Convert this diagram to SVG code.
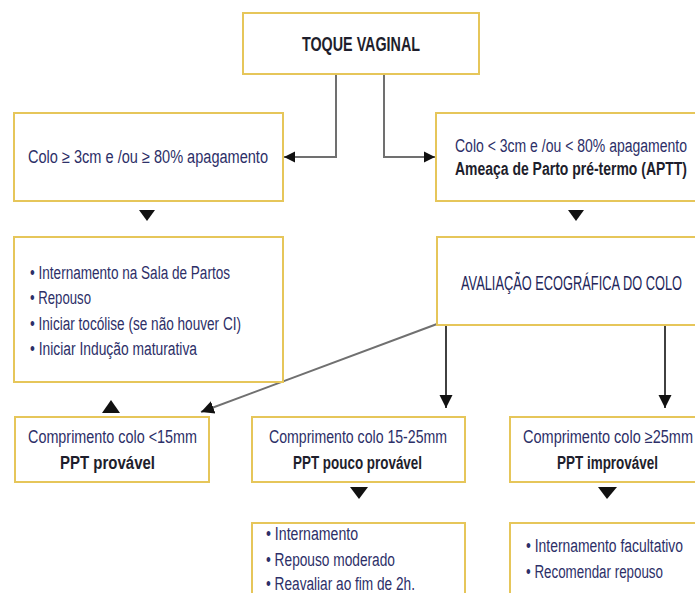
<svg xmlns="http://www.w3.org/2000/svg" width="695" height="593" viewBox="0 0 695 593">
<style>
.box{fill:#fff;stroke:#e6c65a;stroke-width:2}
.t{font-family:"Liberation Sans",Arial,sans-serif;font-size:18px;fill:#2d2f68}
.b{font-family:"Liberation Sans",Arial,sans-serif;font-size:18px;font-weight:bold;fill:#1e1e2c}
.gl{fill:none;stroke:#707070;stroke-width:2}
.bl{fill:none;stroke:#111;stroke-width:1.6}
.tri{fill:#111}
</style>
<defs>
<marker id="arrA" viewBox="0 0 10 10" refX="10" refY="5" markerWidth="11" markerHeight="14" markerUnits="userSpaceOnUse" orient="auto"><path d="M0,0 L10,5 L0,10 z" fill="#111"/></marker>
<marker id="arrB" viewBox="0 0 10 10" refX="10" refY="5" markerWidth="13" markerHeight="18" markerUnits="userSpaceOnUse" orient="auto"><path d="M0,0 L10,5 L0,10 z" fill="#111"/></marker>
</defs>
<rect width="695" height="593" fill="#fff"/>

<g id="connectors">
<path class="gl" d="M336,74 V157 H284" marker-end="url(#arrA)"/>
<path class="gl" d="M384,74 V157 H435" marker-end="url(#arrA)"/>
<path class="gl" d="M437,324 L201,412" marker-end="url(#arrB)"/>
<path class="bl" d="M446,326 V408" marker-end="url(#arrB)"/>
<path class="bl" d="M665,326 V408" marker-end="url(#arrB)"/>
<polygon class="tri" points="139,210 155,210 147,221"/>
<polygon class="tri" points="568,210 584,210 576,221"/>
<polygon class="tri" points="102,413 120,413 111,400"/>
<polygon class="tri" points="350,487 368,487 359,499"/>
<polygon class="tri" points="598,487 617,487 607,499"/>
</g>

<g id="toque">
<rect class="box" x="243" y="13" width="236" height="61"/>
<text class="b" x="302" y="51" textLength="118" lengthAdjust="spacingAndGlyphs" style="font-size:21px">TOQUE VAGINAL</text>
</g>

<g id="colo-ge">
<rect class="box" x="14" y="113" width="269" height="88"/>
<text class="t" x="28" y="163" textLength="240" lengthAdjust="spacingAndGlyphs">Colo  ≥ 3cm e /ou  ≥ 80% apagamento</text>
</g>

<g id="colo-lt">
<path class="box" d="M695,113 H436 V201 H695"/>
<text class="t" x="455" y="152" textLength="232" lengthAdjust="spacingAndGlyphs">Colo &lt; 3cm e /ou &lt; 80% apagamento</text>
<text class="b" x="455" y="175" textLength="232" lengthAdjust="spacingAndGlyphs" style="font-weight:600">Ameaça de Parto pré-termo (APTT)</text>
</g>

<g id="internamento">
<rect class="box" x="14" y="237" width="269" height="145"/>
<text class="t" x="30" y="279" textLength="200" lengthAdjust="spacingAndGlyphs">• Internamento na Sala de Partos</text>
<text class="t" x="30" y="304" textLength="61" lengthAdjust="spacingAndGlyphs">• Repouso</text>
<text class="t" x="30" y="330" textLength="211" lengthAdjust="spacingAndGlyphs">• Iniciar tocólise (se não houver CI)</text>
<text class="t" x="30" y="355" textLength="167" lengthAdjust="spacingAndGlyphs">• Iniciar Indução maturativa</text>
</g>

<g id="avaliacao">
<path class="box" d="M695,237 H437 V325 H695"/>
<text class="t" x="461" y="290" textLength="221" lengthAdjust="spacingAndGlyphs" style="font-size:20px;fill:#23265a">AVALIAÇÃO ECOGRÁFICA DO COLO</text>
</g>

<g id="c15">
<rect class="box" x="15" y="417" width="194" height="65"/>
<text class="t" x="28" y="443" textLength="169" lengthAdjust="spacingAndGlyphs">Comprimento colo &lt;15mm</text>
<text class="b" x="60" y="469" textLength="95" lengthAdjust="spacingAndGlyphs">PPT  provável</text>
</g>

<g id="c15-25">
<rect class="box" x="252" y="417" width="213" height="65"/>
<text class="t" x="269" y="443" textLength="178" lengthAdjust="spacingAndGlyphs">Comprimento colo 15-25mm</text>
<text class="b" x="293" y="469" textLength="129" lengthAdjust="spacingAndGlyphs">PPT pouco provável</text>
</g>

<g id="c25">
<path class="box" d="M695,417 H510 V482 H695"/>
<text class="t" x="523" y="443" textLength="170" lengthAdjust="spacingAndGlyphs">Comprimento colo  ≥25mm</text>
<text class="b" x="557" y="469" textLength="101" lengthAdjust="spacingAndGlyphs">PPT improvável</text>
</g>

<g id="internamento-2">
<path class="box" d="M252,593 V523 H465 V593"/>
<text class="t" x="266" y="540" textLength="92" lengthAdjust="spacingAndGlyphs">• Internamento</text>
<text class="t" x="266" y="566" textLength="129" lengthAdjust="spacingAndGlyphs">• Repouso moderado</text>
<text class="t" x="266" y="590" textLength="149" lengthAdjust="spacingAndGlyphs">• Reavaliar ao fim de 2h.</text>
</g>

<g id="internamento-3">
<path class="box" d="M510,593 V523 H695"/>
<text class="t" x="526" y="552" textLength="157" lengthAdjust="spacingAndGlyphs">• Internamento facultativo</text>
<text class="t" x="526" y="578" textLength="137" lengthAdjust="spacingAndGlyphs">• Recomendar repouso</text>
</g>
</svg>
